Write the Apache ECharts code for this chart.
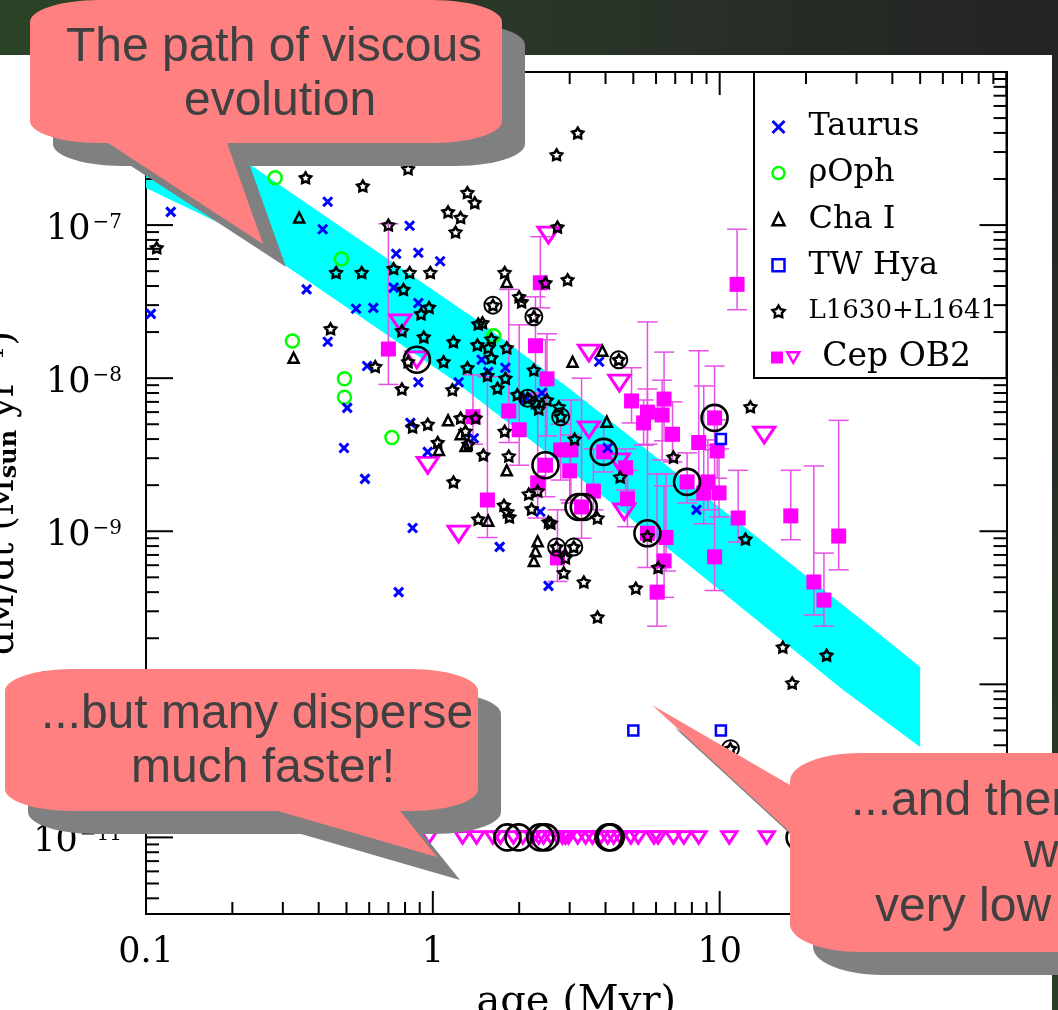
<!DOCTYPE html>
<html><head><meta charset="utf-8">
<style>html,body{margin:0;padding:0;background:#fff;overflow:hidden}#c{width:1058px;height:1010px}</style>
<script src="https://cdn.jsdelivr.net/npm/echarts@6/dist/echarts.min.js"></script>
</head><body><div id="c"></div>
<script>
// ---------- data: [age Myr, dM/dt Msun/yr] ----------
const xTickDecades=[0.1,1,10,100];
const yTickDecades=[1e-11,1e-10,1e-9,1e-8,1e-7,1e-6];
const tickMantissas=[2,3,4,5,6,7,8,9];
const taurus=[[.122,1.22e-7],[.43,1.42e-7],[.413,9.4e-8],[.83,9.9e-8],[.745,6.5e-8],[.89,6.6e-8],[1.06,5.8e-8],[.363,3.8e-8],[.73,3.9e-8],[.89,3.1e-8],[.54,2.84e-8],[.62,2.88e-8],[.104,2.63e-8],[.43,1.73e-8],[.59,1.2e-8],[.89,9.4e-9],[1.23,9.4e-9],[1.48,1.32e-8],[1.56,1.1e-8],[1.79,1.17e-8],[3.8,1.28e-8],[2.4,8e-9],[2.12,7.4e-9],[.503,6.4e-9],[.835,5.1e-9],[.49,3.5e-9],[1.39,4.05e-9],[.96,3.3e-9],[.58,2.2e-9],[.85,1.05e-9],[2.37,1.34e-9],[1.71,7.9e-10],[2.53,4.4e-10],[.76,4e-10],[4.07,3.5e-9],[8.3,1.38e-9]];
const rhoOph=[[.282,2.04e-7],[.48,6e-8],[.324,1.75e-8],[.492,9.9e-9],[.492,7.5e-9],[.72,4.1e-9],[1.63,1.89e-8]];
const chaI=[[.342,1.12e-7],[.327,1.36e-8],[1.81,4.25e-8],[3.07,1.28e-8],[3.9,1.51e-8],[1.13,5.3e-9],[1.25,4.3e-9],[1.3,3.6e-9],[1.05,3.4e-9],[1.81,2.5e-9],[1.56,1.17e-9],[2.32,8.6e-10],[2.28,7.4e-10],[2.25,6.4e-10],[4.04,5.2e-9]];
const twHya=[[5.0,5e-11],[10.1,5e-11],[10.1,4e-9]];
const l1630=[[.36,2.04e-7],[.57,1.8e-7],[.82,2.33e-7],[1.32,1.63e-7],[1.4,1.4e-7],[1.13,1.22e-7],[1.25,1.12e-7],[1.2,9e-8],[.7,1e-7],[.109,7.1e-8],[.73,5.2e-8],[.46,4.9e-8],[.565,4.9e-8],[.83,4.9e-8],[.98,4.9e-8],[.79,3.8e-8],[.97,2.9e-8],[.91,2.63e-8],[.44,2.1e-8],[.78,2.04e-8],[.93,1.86e-8],[1.18,1.73e-8],[1.44,2.26e-8],[1.43,1.65e-8],[.63,1.19e-8],[.82,1.28e-8],[1.09,1.28e-8],[1.32,1.17e-8],[.78,8.5e-9],[1.17,8.4e-9],[3.2,4e-7],[2.7,2.88e-7],[2.72,9.7e-8],[2.95,4.4e-8],[2.47,4.2e-8],[1.78,4.9e-8],[2.0,3.4e-8],[2.04,3.15e-8],[1.62,3e-8],[2.25,2.52e-8],[1.49,2.3e-8],[1.6,1.8e-8],[1.81,1.58e-8],[1.56,1.58e-8],[1.6,1.36e-8],[1.55,1.04e-8],[1.79,1e-8],[2.25,1.13e-8],[4.45,1.32e-8],[1.68,8.6e-9],[1.97,7.8e-9],[2.14,7.4e-9],[2.28,6.9e-9],[2.34,6.3e-9],[2.5,7.2e-9],[2.75,6.5e-9],[2.79,5.6e-9],[3.12,4e-9],[1.78,4.5e-9],[1.41,5.5e-9],[1.3,4.5e-9],[1.33,3.7e-9],[.85,4.8e-9],[.96,5e-9],[1.25,5.5e-9],[1.04,3.8e-9],[1.5,3.15e-9],[1.84,3.1e-9],[1.18,2.1e-9],[2.16,1.75e-9],[2.32,1.83e-9],[1.77,1.48e-9],[1.82,1.34e-9],[1.85,1.24e-9],[2.21,1.4e-9],[2.53,1.15e-9],[1.44,1.2e-9],[2.7,7.9e-10],[12.8,6.5e-9],[6.9,3.05e-9],[4.5,2.26e-9],[3.75,1.22e-9],[5.6,9.3e-10],[3.1,7.9e-10],[2.9,6.7e-10],[2.86,5.35e-10],[3.36,4.66e-10],[5.1,4.25e-10],[6.1,5.8e-10],[12.3,8.9e-10],[3.75,2.75e-10],[16.6,1.75e-10],[23.6,1.55e-10],[17.9,1.02e-10],[2.58,1.13e-9],[10.9,3.8e-11]];
// Cep OB2 detections: [age, dM/dt, upper error end, lower error end]
const cepDetections=[[.70,1.55e-8,1.02e-7,9.1e-9],[1.38,5.6e-9,1.05e-8,3.7e-9],[1.84,6.1e-9,3.8e-8,3.8e-9],[2.0,4.6e-9,2.23e-8,2.7e-9],[1.55,1.6e-9,1.02e-8,9.1e-10],[2.28,1.63e-8,3.4e-8,7.8e-9],[2.37,4.2e-8,8.4e-8,2.88e-8],[2.5,9.9e-9,1.95e-8,4.2e-9],[2.32,2.07e-9,8e-9,1.22e-9],[2.47,2.7e-9,1.78e-8,1.68e-9],[2.72,6.7e-10,1.38e-9,4.7e-10],[2.79,3.4e-9,5e-9,2.16e-9],[3.03,3.4e-9,7.2e-9,1.53e-9],[3.0,2.48e-9,4.25e-9,1.6e-9],[3.3,1.44e-9,1e-8,9e-10],[3.63,1.83e-9,3.45e-9,1.38e-9],[3.94,3.3e-9,4.8e-9,2.44e-9],[4.7,2.6e-9,3.45e-9,1.86e-9],[4.77,1.63e-9,2.5e-9,1.07e-9],[4.93,7.1e-9,1.17e-8,5.1e-9],[5.6,6e-9,8.5e-9,3.7e-9],[5.43,5.1e-9,7.2e-9,3.65e-9],[5.6,9.7e-10,2.33e-8,5.8e-10],[6.4,7.3e-9,1.48e-8,3.9e-9],[6.3,5.75e-9,9.7e-9,2.92e-9],[6.85,4.3e-9,7e-9,2.84e-9],[8.45,3.8e-9,1.51e-8,1.6e-9],[9.6,5.5e-9,1.2e-8,3.65e-9],[9.8,3.35e-9,5.35e-9,2.22e-9],[7.7,2.1e-9,3.25e-9,1.53e-9],[9.1,2.1e-9,3.95e-9,1.38e-9],[8.8,1.78e-9,8.9e-9,1.12e-9],[9.95,1.78e-9,3.45e-9,1.24e-9],[11.6,1.22e-9,2.5e-9,8.5e-10],[17.7,1.26e-9,2.5e-9,8.8e-10],[26,9.3e-10,5.3e-9,5.6e-10],[21.3,4.66e-10,2.67e-9,2.84e-10],[23.1,3.55e-10,7.2e-10,2.4e-10],[6.5,9.1e-10,2.37e-9,5.5e-10],[6.4,6.4e-10,1.98e-9,3.7e-10],[9.6,6.8e-10,3.4e-9,4.1e-10],[6.05,4e-10,2.37e-9,2.4e-10],[11.5,4.1e-8,9.4e-8,2.8e-8]];
const cepUpperLimits=[[.77,2.3e-8],[.88,1.32e-8],[2.53,8.6e-8],[3.5,1.46e-8],[4.47,9.3e-9],[.96,2.7e-9],[1.23,9.6e-10],[3.5,4.6e-9],[4.45,2.84e-9],[4.65,1.34e-9],[14.3,4.25e-9]];
const floorAges=[.97,1.27,1.42,1.62,1.72,1.91,2.06,2.23,2.34,2.43,2.58,2.72,2.83,2.9,2.97,3.2,3.41,3.6,3.85,4.07,4.27,4.51,4.9,5.2,5.9,6.1,6.9,7.5,8.45,10.8,14.6];
const floorRate=1e-11;
const ringedSmall=[[1.62,3e-8],[2.25,2.52e-8],[4.45,1.32e-8],[2.14,7.4e-9],[2.79,5.6e-9],[2.7,7.9e-10],[3.1,7.9e-10],[10.9,3.8e-11]];
const ringedLarge=[[.88,1.32e-8],[2.47,2.7e-9],[3.94,3.3e-9],[7.7,2.1e-9],[9.6,5.5e-9],[5.6,9.7e-10],[3.22,1.44e-9],[3.36,1.44e-9],[1.82,1e-11],[1.99,1e-11],[2.37,1e-11],[2.47,1e-11],[4.1,1e-11],[4.17,1e-11],[19,1e-11]];
const bandUpper=[[.1,6.6e-7],[.231,2.48e-7],[1.47,2.3e-8],[3.03,8.4e-9],[33.6,2.37e-10],[50,1.3e-10]];
const bandLower=[[.1,1.75e-7],[.257,7.5e-8],[.308,5.4e-8],[1.18,9.7e-9],[3.94,1.68e-9],[10.3,3.95e-10],[27.1,9.1e-11],[50,3.9e-11]];

// ---------- helpers ----------
const serif='"DejaVu Serif"', sans='"Liberation Sans"';
const xMin=0.1,xMax=100,yMin=3.16e-12,yMax=1e-6;
const xMinor=[],yMinor=[];
xTickDecades.slice(0,-1).forEach(d=>tickMantissas.forEach(m=>xMinor.push(d*m)));
[1e-12,1e-11,1e-10,1e-9,1e-8,1e-7].forEach(d=>tickMantissas.forEach(m=>{const v=d*m;if(v>yMin&&v<yMax)yMinor.push(v);}));
const line=(x1,y1,x2,y2)=>({type:'line',shape:{x1,y1,x2,y2},style:{stroke:'#000',lineWidth:2}});
function xTickSeries(vals,len){return {type:'custom',silent:true,z:6,clip:false,data:vals.map(v=>[v,1e-9]),
  renderItem:(p,api)=>{const x=api.coord([api.value(0),1e-9])[0],c=p.coordSys;
    return {type:'group',children:[line(x,c.y+c.height,x,c.y+c.height-len),line(x,c.y,x,c.y+len)]};}};}
function yTickSeries(vals,len){return {type:'custom',silent:true,z:6,clip:false,data:vals.map(v=>[1,v]),
  renderItem:(p,api)=>{const y=api.coord([1,api.value(1)])[1],c=p.coordSys;
    return {type:'group',children:[line(c.x,y,c.x+len,y),line(c.x+c.width,y,c.x+c.width-len,y)]};}};}
function bubble(x0,y0,x1,y1,rx,ry,bottomTail,leftTail){
  const pts=[],arc=(cx,cy,a0,a1)=>{for(let i=0;i<=14;i++){const a=(a0+(a1-a0)*i/14)*Math.PI/180;pts.push([cx+rx*Math.cos(a),cy+ry*Math.sin(a)]);}};
  arc(x0+rx,y0+ry,180,270);arc(x1-rx,y0+ry,270,360);arc(x1-rx,y1-ry,0,90);
  if(bottomTail)bottomTail.forEach(p=>pts.push(p));
  arc(x0+rx,y1-ry,90,180);
  if(leftTail)leftTail.forEach(p=>pts.push(p));
  return pts;
}
const shift=(pts,d)=>pts.map(p=>[p[0]+d,p[1]+d]);
function callout(pts,z){return [
  {type:'polygon',z:z,silent:true,shape:{points:shift(pts,23)},style:{fill:'#808080'}},
  {type:'polygon',z:z+1,silent:true,shape:{points:pts},style:{fill:'#ff8080'}}];}
const label=(t,x,y,align,z)=>({type:'text',z:z,silent:true,x:x,y:y-14,style:{text:t,fill:'#404040',font:'48px '+sans,align:align,verticalAlign:'middle'}});
const c1=bubble(30,0,502,143,70,22,[[227,143],[263,244],[108,143]]);
const c2=bubble(5,669,478,811,68,22,[[400,811],[437,857],[278,811]]);
const c3=bubble(790,753,1300,952,70,28,null,[[790,832],[652,705],[790,785]]);

const hollow=(c,w)=>({color:'rgba(0,0,0,0)',borderColor:c,borderWidth:w,opacity:1});
const crossPath='path://M0 0L10 10M10 0L0 10';
const starPath='path://M50 2L66.5 29.3L97.6 36.5L76.6 60.7L79.4 92.5L50 80L20.6 92.5L23.4 60.7L2.4 36.5L33.5 29.3Z';
const downPath='path://M0 0L24 0L12 21Z';
const emptyAxis={type:'log',logBase:10,axisLabel:{show:false},axisTick:{show:false},splitLine:{show:false},axisLine:{show:true,lineStyle:{color:'#000',width:2}}};
const labelRich={d:{fontFamily:serif,fontSize:35,color:'#000',lineHeight:40},u:{fontFamily:serif,fontSize:20,color:'#000',padding:[0,0,14,2],lineHeight:26}};

const option={
  animation:false,backgroundColor:'#fff',
  grid:{left:146,right:51.5,top:72,bottom:96,containLabel:false,outerBoundsMode:'none'},
  xAxis:[
   {...emptyAxis,min:xMin,max:xMax,position:'bottom',name:'age (Myr)',nameLocation:'middle',nameGap:69,
    nameTextStyle:{fontFamily:serif,fontSize:40,color:'#000'},
    axisLabel:{show:true,margin:21,fontFamily:serif,fontSize:35,color:'#000',hideOverlap:false,showMinLabel:true,showMaxLabel:true,
      formatter:v=>{const e=Math.log10(v);if(Math.abs(e-Math.round(e))>1e-6)return '';return e<0?'0.1':String(Math.round(Math.pow(10,e)));}}},
   {...emptyAxis,min:xMin,max:xMax,position:'top'}],
  yAxis:[
   {...emptyAxis,min:yMin,max:yMax,position:'left',name:'{m|dM/dt (M}{s|sun}{m| yr}{u|−1}{m|)}',nameLocation:'middle',nameGap:114,
    nameTextStyle:{rich:{m:{fontFamily:serif,fontSize:37,color:'#000',lineHeight:42},s:{fontFamily:serif,fontSize:24,fontWeight:'bold',color:'#000',padding:[12,0,0,0]},u:{fontFamily:serif,fontSize:23,color:'#000',padding:[0,0,14,0]}}},
    axisLabel:{show:true,margin:24,padding:[9,0,0,0],rich:labelRich,hideOverlap:false,
      formatter:v=>{const e=Math.log10(v);if(Math.abs(e-Math.round(e))>1e-6)return '';return '{d|10}{u|−'+Math.abs(Math.round(e))+'}';}}},
   {...emptyAxis,min:yMin,max:yMax,position:'right'}],
  legend:[
   {left:771,top:111,padding:0,orient:'vertical',itemWidth:12,itemHeight:12,itemGap:14.1,selectedMode:false,
    textStyle:{fontFamily:serif,fontSize:32,color:'#000',lineHeight:32,padding:[0,0,0,19]},
    data:[
     {name:'Taurus',icon:crossPath,itemStyle:hollow('#0000ff',3)},
     {name:'ρOph',icon:'circle',itemStyle:hollow('#00ff00',2.5)},
     {name:'Cha I',icon:'triangle',itemStyle:hollow('#000',2.5)},
     {name:'TW Hya',icon:'rect',itemStyle:hollow('#0000ff',2.5)},
     {name:'L1630+L1641',icon:starPath,itemStyle:hollow('#000',2.5),textStyle:{fontFamily:serif,fontSize:26,color:'#000',lineHeight:32,padding:[0,0,0,19]}}]},
   {left:771,top:341,padding:0,orient:'horizontal',itemWidth:12,itemHeight:12,itemGap:-2,selectedMode:false,
    textStyle:{fontFamily:serif,fontSize:32,color:'#000',lineHeight:32,padding:0},
    formatter:n=>n==='Cep OB2 upper limits'?'Cep OB2':'',
    data:[
     {name:'Cep OB2',icon:'rect',itemStyle:{color:'#ff00ff',opacity:1}},
     {name:'Cep OB2 upper limits',icon:downPath,itemStyle:hollow('#ff00ff',2.5),textStyle:{fontFamily:serif,fontSize:33,color:'#000',lineHeight:32,padding:[0,0,0,18]}}]}],
  graphic:[
    {type:'rect',z:30,silent:true,shape:{x:0,y:0,width:1058,height:55},style:{fill:new echarts.graphic.LinearGradient(0,0,1,0,[{offset:0,color:'#2b4326'},{offset:.5,color:'#2a3628'},{offset:1,color:'#232323'}])}},
    {type:'rect',z:30,silent:true,shape:{x:1052,y:55,width:6,height:955},style:{fill:new echarts.graphic.LinearGradient(0,0,0,1,[{offset:0,color:'#232323'},{offset:1,color:'#2a3f27'}])}},
    {type:'rect',z:3,silent:true,shape:{x:754,y:72,width:252.5,height:306},style:{fill:'#fff',stroke:'#000',lineWidth:2}},
    ...callout(c1,40),...callout(c3,42),...callout(c2,44),
    label('The path of viscous',274,62,'center',50),label('evolution',280,116,'center',50),
    label('...but many disperse',257,729,'center',50),label('much faster!',263,783,'center',50),
    label('...and then',851,816,'left',50),label('w',1024,868,'left',50),label('very low',875,922,'left',50)
  ],
  series:[
    {type:'custom',name:'viscous evolution',silent:true,z:1,clip:true,data:[bandUpper[0]],
     renderItem:(p,api)=>({type:'polygon',shape:{points:bandUpper.concat(bandLower.slice().reverse()).map(d=>api.coord(d))},style:{fill:'#00ffff'}})},
    {type:'custom',name:'Cep OB2 error bars',silent:true,z:2,clip:true,data:cepDetections,
     renderItem:(p,api)=>{const a=api.value(0),hi=api.coord([a,api.value(2)]),lo=api.coord([a,api.value(3)]);
       const st={stroke:'#e650e6',lineWidth:1.5},L=(x1,y1,x2,y2)=>({type:'line',shape:{x1,y1,x2,y2},style:st});
       return {type:'group',children:[L(hi[0],hi[1],lo[0],lo[1]),L(hi[0]-10,hi[1],hi[0]+10,hi[1]),L(lo[0]-10,lo[1],lo[0]+10,lo[1])]};}},
    {type:'scatter',name:'Cep OB2',z:3,symbol:'rect',symbolSize:15,itemStyle:{color:'#ff00ff',opacity:1},data:cepDetections.map(d=>[d[0],d[1]])},
    {type:'scatter',name:'Cep OB2 upper limits',z:3,symbol:downPath,symbolKeepAspect:true,symbolSize:[21,18],itemStyle:hollow('#ff00ff',3),data:cepUpperLimits},
    {type:'scatter',name:'Cep OB2 floor',z:3,symbol:downPath,symbolKeepAspect:true,symbolSize:[15,13],itemStyle:hollow('#ff00ff',3),data:floorAges.map(a=>[a,floorRate])},
    {type:'scatter',name:'ρOph',z:3,symbol:'circle',symbolSize:13,itemStyle:hollow('#00ff00',2.5),data:rhoOph},
    {type:'scatter',name:'Taurus',z:4,symbol:crossPath,symbolSize:9,itemStyle:hollow('#0000ff',3),data:taurus},
    {type:'scatter',name:'Cha I',z:4,symbol:'triangle',symbolSize:10,itemStyle:hollow('#000',2.5),data:chaI},
    {type:'scatter',name:'TW Hya',z:4,symbol:'rect',symbolSize:10,itemStyle:hollow('#0000ff',2.5),data:twHya},
    {type:'scatter',name:'L1630+L1641',z:4,symbol:starPath,symbolKeepAspect:true,symbolSize:11,itemStyle:hollow('#000',2.6),data:l1630},
    {type:'scatter',name:'ringed small',z:5,symbol:'circle',symbolSize:17,itemStyle:hollow('#000',2),data:ringedSmall},
    {type:'scatter',name:'ringed large',z:5,symbol:'circle',symbolSize:26,itemStyle:hollow('#000',2.6),data:ringedLarge},
    xTickSeries(xTickDecades,23),xTickSeries(xMinor,12),
    yTickSeries(yTickDecades,27),yTickSeries(yMinor,13)
  ]
};
echarts.init(document.getElementById('c'),null,{renderer:'canvas'}).setOption(option);
</script></body></html>
